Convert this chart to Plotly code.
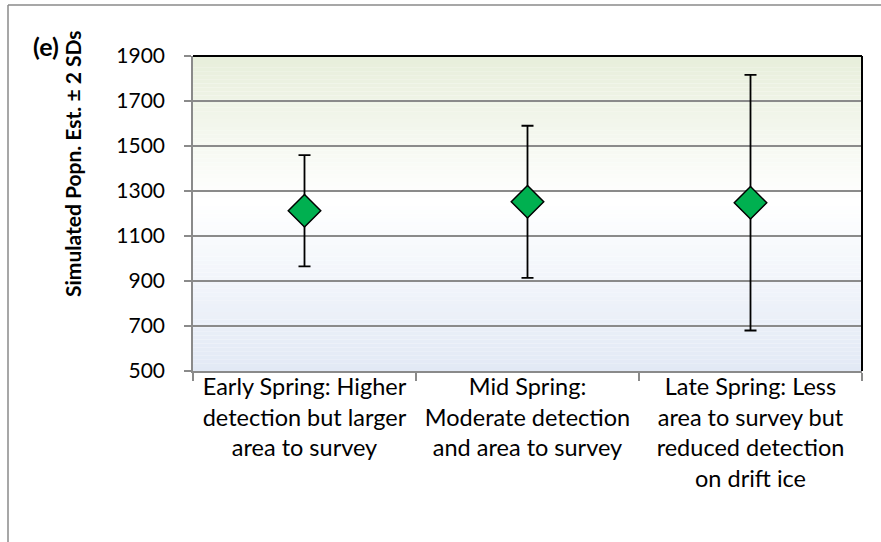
import plotly.graph_objects as go

# Survey scenarios (x categories), simulated population estimates and 2-SD spreads
categories = [
    "Early Spring: Higher<br>detection but larger<br>area to survey",
    "Mid Spring:<br>Moderate detection<br>and area to survey",
    "Late Spring: Less<br>area to survey but<br>reduced detection<br>on drift ice",
]
estimates = [1212, 1252, 1248]
two_sd = [247, 338, 568]
y_ticks = [500, 700, 900, 1100, 1300, 1500, 1700, 1900]

W, H = 881, 542
L, R, T, B = 193, 19, 56, 171
FONT = "Lato"

fig = go.Figure()
fig.add_trace(go.Scatter(
    x=categories,
    y=estimates,
    mode="markers",
    marker=dict(symbol="diamond", size=25, color="#00b050",
                line=dict(color="black", width=1.5)),
    error_y=dict(type="data", array=two_sd, visible=True,
                 color="black", thickness=1.8, width=6),
    showlegend=False,
    hoverinfo="y",
))

# vertical gradient fill of the plotting area: green at top, white, blue at bottom
def lerp(a, b, t):
    return tuple(round(a[i] + (b[i] - a[i]) * t) for i in range(3))

top_c, mid_c, bot_c = (231, 238, 219), (255, 255, 255), (226, 233, 245)
mid_pos = 0.54
n = 80
shapes = []
for i in range(n):
    y0, y1 = i / n, (i + 1) / n
    f = (y0 + y1) / 2
    if f < mid_pos:
        c = lerp(bot_c, mid_c, f / mid_pos)
    else:
        c = lerp(mid_c, top_c, (f - mid_pos) / (1 - mid_pos))
    shapes.append(dict(type="rect", xref="paper", yref="paper",
                       x0=0, x1=1, y0=y0, y1=y1, layer="below",
                       line=dict(width=0),
                       fillcolor="rgb(%d,%d,%d)" % c))

# dark top and right borders of the plotting area
shapes.append(dict(type="line", xref="paper", yref="paper", x0=0, x1=1, y0=1, y1=1,
                   line=dict(color="black", width=2)))
shapes.append(dict(type="line", xref="paper", yref="paper", x0=1, x1=1, y0=0, y1=1,
                   line=dict(color="black", width=2)))

# outer frame (top and left edges)
pw, ph = W - L - R, H - T - B
fx = (8 - L) / pw
fy_top = (H - B - 5) / ph
fy_bot = (H - B - H - 5) / ph
shapes.append(dict(type="line", xref="paper", yref="paper", x0=fx, x1=(W + 5 - L) / pw,
                   y0=fy_top, y1=fy_top, line=dict(color="#8a8a8a", width=1.5)))
shapes.append(dict(type="line", xref="paper", yref="paper", x0=fx, x1=fx,
                   y0=fy_top, y1=fy_bot, line=dict(color="#8a8a8a", width=1.5)))


def px_x(px):
    return (px - L) / pw


def px_y(py):
    return (H - B - py) / ph


fig.update_layout(
    width=W, height=H,
    margin=dict(l=L, r=R, t=T, b=B),
    paper_bgcolor="white",
    plot_bgcolor="white",
    shapes=shapes,
    font=dict(family=FONT, color="black"),
    xaxis=dict(
        type="category",
        tickson="boundaries",
        ticks="outside", ticklen=8, tickwidth=1.5, tickcolor="#8a8a8a",
        showline=True, linecolor="#8a8a8a", linewidth=1.5,
        showgrid=False,
        tickfont=dict(family=FONT, size=23.5, color="black"),
        ticklabelstandoff=-6,
        range=[-0.5, 2.5],
    ),
    yaxis=dict(
        range=[500, 1900],
        tickvals=y_ticks,
        ticks="outside", ticklen=7, tickwidth=1.5, tickcolor="#8a8a8a",
        showline=True, linecolor="#8a8a8a", linewidth=1.5,
        showgrid=True, gridcolor="#8a8a8a", gridwidth=1.5,
        zeroline=False,
        tickfont=dict(family=FONT, size=21, color="black"),
        ticklabelstandoff=15,
    ),
    annotations=[
        dict(text="<b>(e)</b>", xref="paper", yref="paper",
             x=px_x(46), y=px_y(46),
             showarrow=False, xanchor="center", yanchor="middle",
             font=dict(family=FONT, size=25, color="black")),
        dict(text="<b>Simulated Popn. Est. ± 2 SDs</b>", xref="paper", yref="paper",
             x=px_x(72), y=px_y(163), textangle=-90,
             showarrow=False, xanchor="center", yanchor="middle",
             font=dict(family=FONT, size=21, color="black")),
    ],
)

fig.write_html("out.html")
